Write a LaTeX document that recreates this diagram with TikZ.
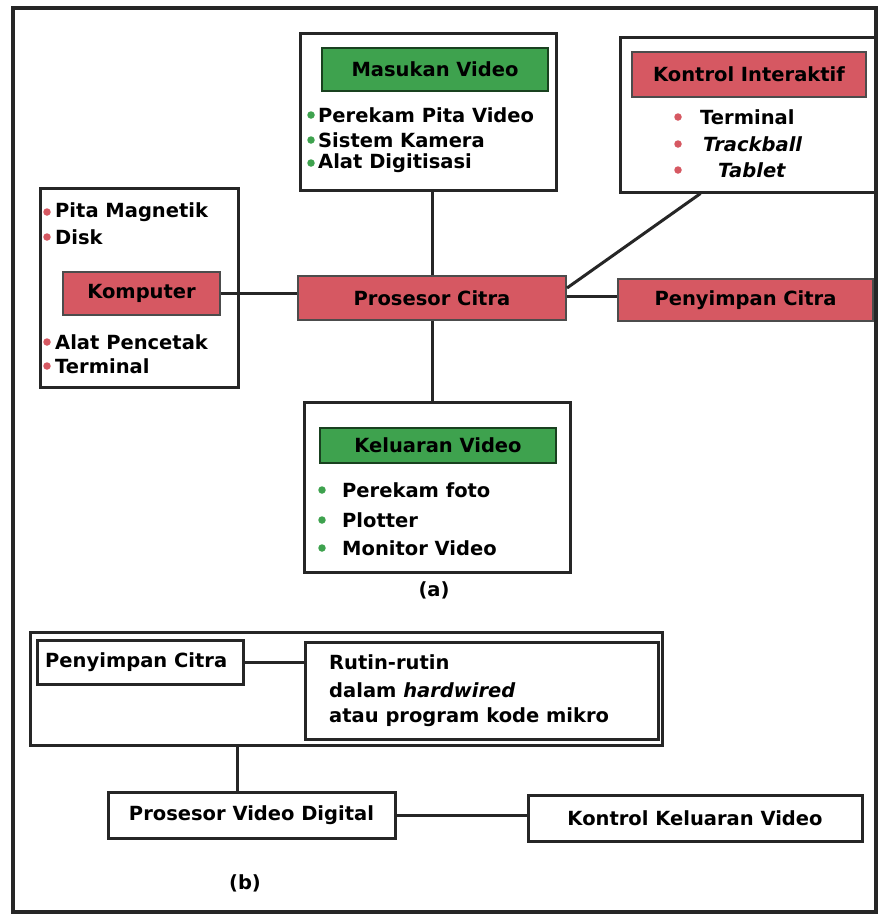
\documentclass[tikz,border=0pt]{standalone}
\usepackage{fontspec}
\setmainfont{DejaVu Sans}
\usetikzlibrary{calc}
\definecolor{hdrred}{RGB}{214,88,98}
\definecolor{hdrgreen}{RGB}{62,162,78}
\begin{document}
\begin{tikzpicture}[x=1pt,y=-1pt,
  font=\fontsize{19.5}{24}\selectfont\bfseries,
  panelbox/.style={draw=black!85, line width=4pt, inner sep=0pt},
  frame/.style={draw=black!85, line width=3pt, fill=white, inner sep=0pt},
  redhdr/.style={draw=black!70, line width=1.6pt, fill=hdrred, inner sep=0pt},
  greenhdr/.style={draw=black!60!hdrgreen, line width=1.6pt, fill=hdrgreen, inner sep=0pt},
  item/.style={anchor=west, inner sep=0pt},
  reddot/.style={circle, fill=hdrred, inner sep=0pt, minimum size=7.5pt},
  greendot/.style={circle, fill=hdrgreen, inner sep=0pt, minimum size=7.5pt},
  link/.style={draw=black!85, line width=3pt},
  caption/.style={inner sep=0pt},
]
\useasboundingbox (0,0) rectangle (880,922);
\fill[white] (0,0) rectangle (880,922);

% outer panel
\node[panelbox, minimum width=863pt, minimum height=904pt] (panel) at (444.5,460) {};

% ---------- (a) ----------
% video input
\node[frame, minimum width=256pt, minimum height=157pt] (mv) at (428,111.5) {};
\node[greenhdr, minimum width=226pt, minimum height=43pt] (mvh) at (435,69.5) {Masukan Video};
\node[greendot] (mvd1) at (311,115) {};
\node[item] (mvi1) at (318,115) {Perekam Pita Video};
\node[greendot] (mvd2) at (311,140) {};
\node[item] (mvi2) at (318,140) {Sistem Kamera};
\node[greendot] (mvd3) at (311,163) {};
\node[item] (mvi3) at (318,163) {Alat Digitisasi};

% interactive control
\node[frame, minimum width=255pt, minimum height=155pt] (ki) at (747.5,114.5) {};
\node[redhdr, minimum width=234pt, minimum height=45pt] (kih) at (749,74.5) {Kontrol Interaktif};
\node[reddot] (kid1) at (678,117) {};
\node[item] (kii1) at (700,117) {Terminal};
\node[reddot] (kid2) at (678,144) {};
\node[item] (kii2) at (703,144) {\itshape Trackball};
\node[reddot] (kid3) at (678,170) {};
\node[item] (kii3) at (718,170) {\itshape Tablet};

% computer
\node[frame, minimum width=198pt, minimum height=199pt] (km) at (139,287.5) {};
\node[reddot] (kmd1) at (47,212) {};
\node[item] (kmi1) at (55,212) {Pita Magnetik};
\node[reddot] (kmd2) at (47,237) {};
\node[item] (kmi2) at (55,237) {Disk};
\node[redhdr, minimum width=157pt, minimum height=43pt] (kmh) at (141.5,293.5) {Komputer};
\node[reddot] (kmd3) at (47,342) {};
\node[item] (kmi3) at (55,342) {Alat Pencetak};
\node[reddot] (kmd4) at (47,366) {};
\node[item] (kmi4) at (55,366) {Terminal};

% image processor and image store
\node[redhdr, line width=2pt, minimum width=268pt, minimum height=44pt] (pc) at (432,298) {Prosesor Citra};
\node[redhdr, line width=2pt, minimum width=255pt, minimum height=42pt] (pcs) at (745.5,300) {Penyimpan Citra};

% video output
\node[frame, minimum width=266pt, minimum height=170pt] (kv) at (437,487) {};
\node[greenhdr, minimum width=236pt, minimum height=35pt] (kvh) at (438,445.5) {Keluaran Video};
\node[greendot] (kvd1) at (322,490) {};
\node[item] (kvi1) at (342,490) {Perekam foto};
\node[greendot] (kvd2) at (322,520) {};
\node[item] (kvi2) at (342,520) {Plotter};
\node[greendot] (kvd3) at (322,548) {};
\node[item] (kvi3) at (342,548) {Monitor Video};

\node[caption] (capa) at (434,590) {(a)};

% connectors of (a)
\draw[link] (kmh.east) -- (kmh.east -| pc.west);
\draw[link] (pc.north) -- (pc.north |- mv.south);
\draw[link] (pc.south) -- (pc.south |- kv.north);
\coordinate (storeA) at ($(pc.east)+(0,-2)$);
\draw[link] (storeA) -- (storeA -| pcs.west);
\coordinate (diagA) at ($(pc.east)+(0,-10)$);
\coordinate (diagB) at ($(ki.south)+(-47,0)$);
\draw[link] (diagA) -- (diagB);

% ---------- (b) ----------
\node[frame, minimum width=632pt, minimum height=113pt] (ob) at (346,688.5) {};
\node[frame, minimum width=206pt, minimum height=44pt] (pcb) at (140,662) {};
\node[item] (pcbt) at (45,662) {Penyimpan Citra};
\node[frame, minimum width=353pt, minimum height=97pt] (rt) at (481.5,690.5) {};
\node[item] (rt1) at (329,662) {Rutin-rutin};
\node[item] (rt2) at (329,690) {dalam \itshape hardwired};
\node[item] (rt3) at (329,717) {atau program kode mikro};

\node[frame, minimum width=287pt, minimum height=46pt] (pvd) at (251.5,815) {Prosesor Video Digital};
\node[frame, minimum width=334pt, minimum height=46pt] (kkv) at (695,818) {Kontrol Keluaran Video};

\node[caption] (capb) at (245,883) {(b)};

% connectors of (b)
\draw[link] (pcb.east) -- (pcb.east -| rt.west);
\coordinate (vdTop) at ($(pvd.north)+(-14,0)$);
\draw[link] (vdTop) -- (vdTop |- ob.south);
\draw[link] (pvd.east) -- (pvd.east -| kkv.west);
\end{tikzpicture}
\end{document}
